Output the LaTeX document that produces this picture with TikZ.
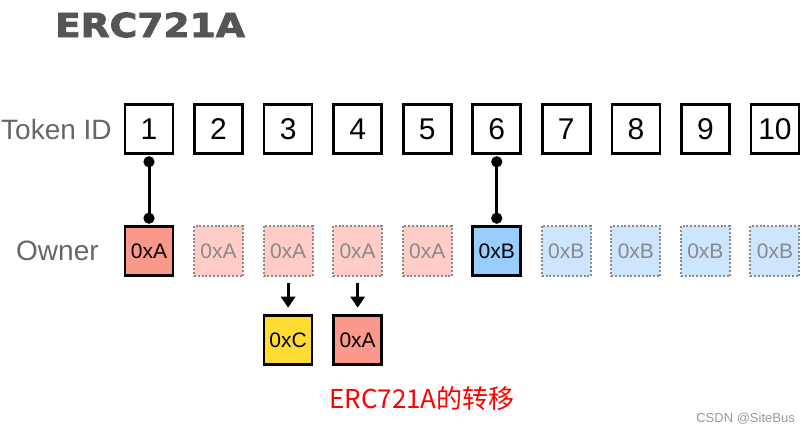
\documentclass[tikz,border=0pt]{standalone}
\usepackage{fontspec}
\usepackage{graphicx}
\setmainfont{Liberation Sans}
\newfontfamily\titlefont[BoldFeatures={FakeBold=2.5}]{DejaVu Sans}
\newfontfamily\cjkfont{Noto Sans CJK SC}
\usetikzlibrary{arrows.meta}
\definecolor{salmon}{HTML}{FA988C}
\definecolor{salmonlight}{HTML}{FFCCC7}
\definecolor{bluefill}{HTML}{99CCFF}
\definecolor{bluelight}{HTML}{CCE6FF}
\definecolor{yellowfill}{HTML}{FFDC34}
\definecolor{titlegray}{HTML}{555555}
\definecolor{labelgray}{HTML}{666666}
\definecolor{fadegray}{HTML}{8A8A8A}
\tikzset{
  cell/.style={draw=black, line width=2.6pt, minimum width=48pt, minimum height=49pt, inner sep=0pt, font=\fontsize{30}{32}\selectfont},
  own/.style={draw=black, line width=2.6pt, minimum width=48pt, minimum height=49pt, inner sep=0pt, font=\fontsize{21}{24}\selectfont},
  ghost/.style={draw=fadegray, line width=2pt, dash pattern=on 2pt off 1.8pt, minimum width=49pt, minimum height=50pt, inner sep=0pt, text=fadegray, font=\fontsize{21}{24}\selectfont},
  link/.style={line width=3pt, {Circle[length=11pt]}-{Circle[length=11pt]}, shorten <=1.5pt, shorten >=1.5pt},
  arr/.style={line width=3pt, -{Triangle[length=11pt,width=14pt]}, shorten <=6pt, shorten >=6.5pt},
  rowlabel/.style={anchor=west, inner sep=0pt, text=labelgray, font=\fontsize{28}{30}\selectfont}
}
\begin{document}
\begin{tikzpicture}[x=1pt,y=-1pt]
\useasboundingbox (0,0) rectangle (806,434);
% title
\node[inner sep=0pt, text=titlegray] (title) at (150,25) {\scalebox{1.14}[1]{\titlefont\bfseries\fontsize{33}{36}\selectfont ERC721A}};
% row labels
\node[rowlabel] (tokenlbl) at (1,129) {Token ID};
\node[rowlabel] (ownerlbl) at (16,251) {Owner};
% token id cells
\foreach \i in {1,...,10}{
  \node[cell] (t\i) at ({149+(\i-1)*69.55},129) {\i};
}
% owner cells
\node[own, fill=salmon] (o1) at (149,251) {0xA};
\foreach \i in {2,...,5}{
  \node[ghost, fill=salmonlight] (o\i) at ({149+(\i-1)*69.55},251) {0xA};
}
\node[own, fill=bluefill] (o6) at ({149+5*69.55},251) {0xB};
\foreach \i in {7,...,10}{
  \node[ghost, fill=bluelight] (o\i) at ({149+(\i-1)*69.55},251) {0xB};
}
% transferred
\node[own, fill=yellowfill] (n3) at ({149+2*69.55},340) {0xC};
\node[own, fill=salmon] (n4) at ({149+3*69.55},340) {0xA};
% connectors
\draw[link] (t1) -- (o1);
\draw[link] (t6) -- (o6);
\draw[arr] (o3) -- (n3);
\draw[arr] (o4) -- (n4);
% caption
\node[inner sep=0pt, text=red, font=\cjkfont\fontsize{26}{28}\selectfont] (cap) at (422,399) {ERC721A的转移};
\node[anchor=east, inner sep=0pt, text=black!40, font=\fontsize{13}{15}\selectfont] (wm) at (795,419) {CSDN @SiteBus};
\end{tikzpicture}
\end{document}
